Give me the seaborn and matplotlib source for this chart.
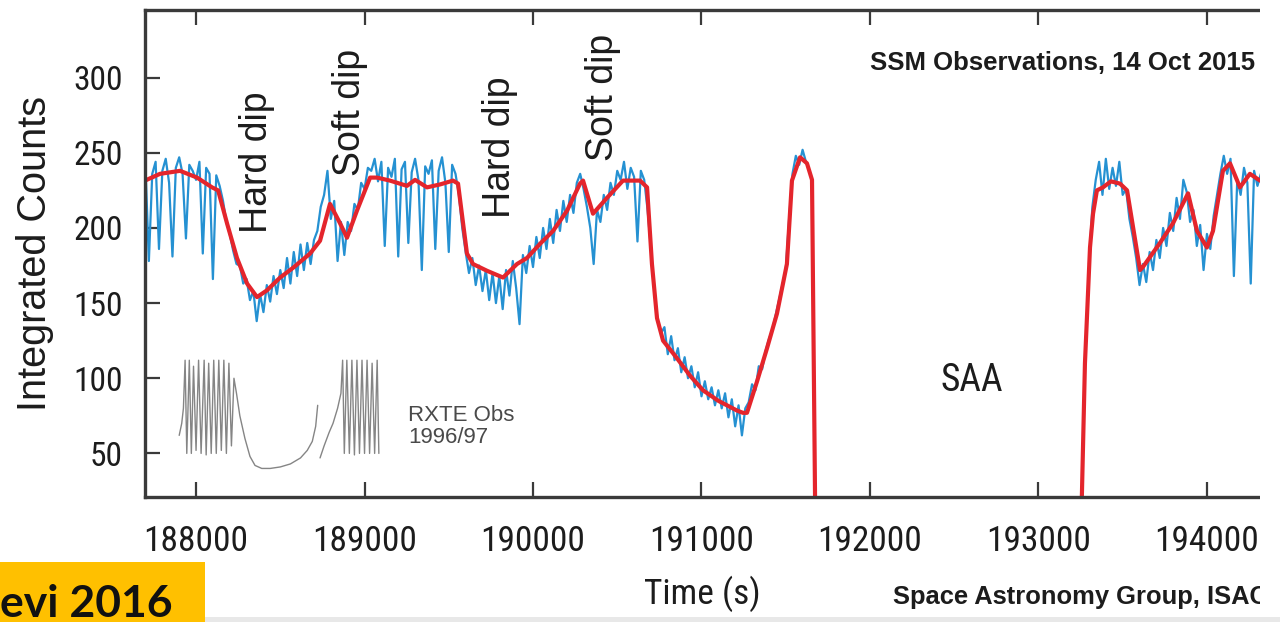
import numpy as np
import matplotlib
matplotlib.use("Agg")
import matplotlib.pyplot as plt
from matplotlib.patches import Rectangle
import seaborn as sns

# ---- SSM raw counts, 20 s bins ----
ssm_step = 20
ssm_a_start = 187700
ssm_a_counts = [
    240, 178, 236, 244, 186, 238, 246, 230, 181, 240,   # 187700
    247, 236, 193, 242, 238, 232, 244, 183, 240, 236,   # 187900
    166, 235, 228, 218, 204, 196, 185, 176, 175, 163,   # 188100
    166, 152, 158, 138, 156, 144, 162, 151, 168, 156,   # 188300
    172, 160, 180, 163, 184, 168, 189, 172, 190, 176,   # 188500
    192, 198, 214, 222, 238, 206, 218, 178, 204, 182,   # 188700
    204, 198, 216, 212, 230, 226, 240, 238, 246, 231,   # 188900
    244, 188, 240, 234, 246, 181, 239, 244, 190, 237,   # 189100
    246, 232, 172, 241, 236, 245, 186, 238, 247, 230,   # 189300
    184, 242, 236, 222, 200, 184, 170, 180, 162, 175,   # 189500
    158, 172, 152, 170, 150, 168, 146, 172, 155, 178,   # 189700
    160, 136, 182, 170, 188, 174, 194, 180, 200, 186,   # 189900
    206, 190, 212, 198, 218, 204, 222, 210, 230, 236,   # 190100
    226, 214, 200, 176, 212, 204, 222, 212, 230, 222,   # 190300
    238, 232, 244, 226, 240, 234, 191, 238, 232, 212,   # 190500
    186, 158, 138, 130, 134, 116, 128, 112, 120, 104,   # 190700
    114, 100, 108, 94, 104, 88, 98, 86, 94, 82,         # 190900
    92, 80, 90, 74, 86, 68, 82, 62, 80, 84,             # 191100
    96, 92, 108, 106, 118, 126, 132, 142, 152, 162,     # 191300
    172, 206, 236, 248, 242, 252, 244, 238,             # 191500
]
ssm_b_start = 193300
ssm_b_counts = [
    176, 214, 232, 244, 222, 246, 226, 240, 228, 244,   # 193300
    222, 226, 206, 194, 180, 162, 176, 164, 184, 172,   # 193500
    192, 180, 200, 188, 210, 198, 220, 206, 232, 224,   # 193700
    204, 212, 188, 202, 172, 196, 186, 208, 222, 236,   # 193900
    248, 236, 246, 168, 232, 222, 240, 230, 163, 238,   # 194100
    228, 236,                                           # 194300
]

# ---- smoothed counts ----
smooth_a_time = [187697, 187786, 187905, 188006, 188095, 188131, 188184, 188243,
                 188303, 188362, 188421, 188499, 188576, 188677, 188736, 188795,
                 188855, 188896, 188955, 189033, 189074, 189151, 189252, 189300,
                 189371, 189450, 189525, 189555, 189585, 189608, 189644, 189727,
                 189822, 189905, 189964, 190042, 190119, 190202, 190279, 190297,
                 190356, 190439, 190534, 190635, 190677, 190706, 190736, 190772,
                 190850, 190930, 191009, 191100, 191211, 191246, 191270, 191330,
                 191389, 191448, 191507, 191537, 191585, 191626, 191656, 191674,
                 191685]
smooth_a_counts = [231.5, 236, 238, 233.5, 227, 225, 203, 180,
                   163, 154, 158.5, 167, 173.5, 183, 191.5, 216,
                   203, 193.5, 211.5, 233.5, 233.5, 231.5, 228, 232,
                   227, 229, 231.5, 229.5, 203, 183, 176, 171.5,
                   167, 176, 180, 189.5, 198, 211.5, 229.5, 231.5,
                   209.5, 220, 231.5, 231.5, 227, 176, 140, 125,
                   114, 102, 92, 85, 78.5, 77, 77, 98,
                   120, 143, 176, 231.5, 247, 243, 232, 21,
                   0]
smooth_b_time = [193252, 193258, 193276, 193306, 193324, 193347, 193383, 193430,
                 193484, 193526, 193603, 193620, 193721, 193798, 193888, 193941,
                 194000, 194036, 194095, 194137, 194196, 194255, 194315, 194330]
smooth_b_counts = [0, 23, 110, 187, 209.5, 225, 227, 231,
                   229.5, 225, 172, 174, 190, 203, 223, 198,
                   187, 198, 238, 243, 227, 236, 231.5, 232]

# ---- RXTE 1996/97 reference profile (rescaled) ----
rxte_time = [187900, 187915, 187925, 187935, 187945, 187960, 187972, 187985, 188000,
             188015, 188030, 188048, 188060, 188075, 188090, 188105, 188120, 188135,
             188150, 188165, 188180, 188195, 188210, 188225, 188240, 188260, 188290,
             188320, 188350, 188390, 188440, 188500, 188560, 188620, 188660, 188690,
             188710, 188722]
rxte_counts = [62, 70, 80, 112, 50, 112, 50, 108, 52,
               112, 50, 112, 49, 110, 50, 112, 50, 112,
               52, 112, 50, 110, 55, 100, 90, 75, 60,
               48, 42, 40, 40, 41, 43, 47, 52, 58,
               68, 82]
rxte_b_time = [188736, 188760, 188790, 188813, 188840, 188860, 188870, 188880, 188895,
               188910, 188925, 188940, 188955, 188970, 188985, 189000, 189015, 189030,
               189045, 189060, 189075, 189085]
rxte_b_counts = [47, 55, 64, 70, 80, 90, 112, 50, 112,
                 50, 112, 49, 112, 50, 112, 50, 112, 50,
                 110, 50, 112, 50]

x_ticks = [188000, 189000, 190000, 191000, 192000, 193000, 194000]
y_ticks = [50, 100, 150, 200, 250, 300]

dip_labels = ["Hard dip", "Soft dip", "Hard dip", "Soft dip"]
dip_time = [188362, 188914, 189804, 190416]
dip_level = [243.5, 276.7, 253.5, 286.7]

# ---- style ----
sns.set_theme(style="ticks")
plt.rcParams["font.family"] = ["Roboto Condensed", "DejaVu Sans"]
SANS = ["Liberation Sans", "DejaVu Sans"]
ink = "#1c1c1c"
frame = "#3a3a3a"
blue = "#2591d2"
red = "#e4252c"

fig = plt.figure(figsize=(12.8, 6.22), dpi=100)
ax = fig.add_axes([145 / 1280, 1 - 497 / 622, (1260 - 145) / 1280, (497 - 10) / 622])

t_a = ssm_a_start + ssm_step * np.arange(len(ssm_a_counts))
t_b = ssm_b_start + ssm_step * np.arange(len(ssm_b_counts))

for tt, cc in ((t_a, ssm_a_counts), (t_b, ssm_b_counts)):
    sns.lineplot(x=tt, y=cc, ax=ax, color=blue, lw=1.6, estimator=None, sort=False)
for tt, cc in ((smooth_a_time, smooth_a_counts), (smooth_b_time, smooth_b_counts)):
    sns.lineplot(x=tt, y=cc, ax=ax, color=red, lw=3.0, estimator=None, sort=False)
for tt, cc in ((rxte_time, rxte_counts), (rxte_b_time, rxte_b_counts)):
    sns.lineplot(x=tt, y=cc, ax=ax, color="#858585", lw=1.0, estimator=None, sort=False)

ax.set_xlim(187697, 194315)
ax.set_ylim(21, 345)
ax.set_xticks(x_ticks)
ax.set_xticklabels([str(v) for v in x_ticks])
ax.set_yticks(y_ticks)
ax.set_yticklabels([str(v) for v in y_ticks])
ax.tick_params(axis="both", direction="in", length=11, width=1.6, color=frame,
               labelcolor=ink, top=True, right=False)
ax.tick_params(axis="y", pad=16, labelsize=24)
ax.tick_params(axis="x", pad=20, labelsize=25.5)
for side in ("left", "bottom", "top"):
    ax.spines[side].set_visible(True)
    ax.spines[side].set_color(frame)
    ax.spines[side].set_linewidth(2.4)
ax.spines["right"].set_visible(False)

ax.set_xlabel("Time (s)", fontsize=25.5, color=ink, labelpad=13)
ax.set_ylabel("Integrated Counts", fontsize=28.5, color=ink, labelpad=14, family=SANS)

for lab, tx, ty in zip(dip_labels, dip_time, dip_level):
    ax.text(tx, ty, lab, rotation=90, ha="center", va="center", fontsize=27,
            color=ink, family=SANS)

ax.text(194285, 310, "SSM Observations, 14 Oct 2015", ha="right", va="center",
        fontsize=18.5, fontweight="bold", color=ink, family=SANS)
ax.text(192606, 98.5, "SAA", ha="center", va="center", fontsize=27, color=ink)
ax.text(189258, 68, "RXTE Obs\n1996/97", ha="left", va="center", fontsize=16,
        color="#4a4a4a", linespacing=1.05, family=SANS)

fig.text(893 / 1280, 1 - 597 / 622, "Space Astronomy Group, ISAC", ha="left",
         va="center", fontsize=18.4, fontweight="bold", color=ink, family=SANS)

# page edge on the right, soft band along the bottom
fig.add_artist(Rectangle((1260 / 1280, 0), 1, 1, transform=fig.transFigure,
                         facecolor="white", edgecolor="none", zorder=10))
fig.add_artist(Rectangle((0, 0), 1, 5 / 622, transform=fig.transFigure,
                         facecolor="#e8e8e8", edgecolor="none", zorder=10.5))
# citation badge
fig.add_artist(Rectangle((0, 0), 205 / 1280, 60 / 622, transform=fig.transFigure,
                         facecolor="#ffc000", edgecolor="none", zorder=11))
fig.text(0.0, 1 - 617 / 622, "evi 2016", ha="left", va="baseline", fontsize=32,
         fontweight="bold", color="#111111", family=["Lato", "DejaVu Sans"], zorder=12)

fig.savefig("out.png", dpi=100, facecolor="white")
